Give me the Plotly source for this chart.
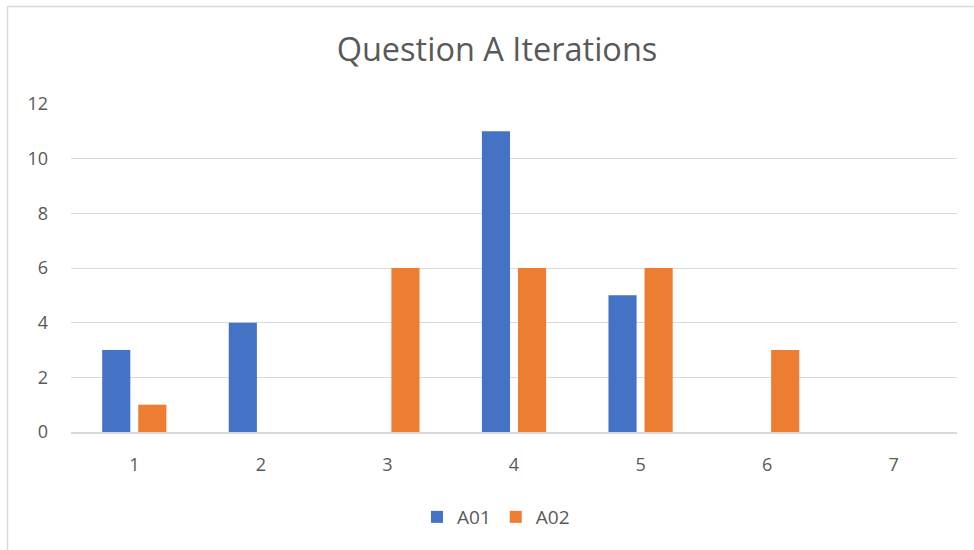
import plotly.graph_objects as go

categories = ["1", "2", "3", "4", "5", "6", "7"]
a01 = [3, 4, 0, 11, 5, 0, 0]
a02 = [1, 0, 6, 6, 6, 3, 0]

blue = "#4472C4"
orange = "#ED7D31"
text_grey = "#595959"
grid_grey = "#D9D9D9"
font_family = "'Open Sans', sans-serif"

fig = go.Figure()
fig.add_trace(go.Bar(name="A01", x=categories, y=a01, marker_color=blue, marker_line_width=0))
fig.add_trace(go.Bar(name="A02", x=categories, y=a02, marker_color=orange, marker_line_width=0))

W, H = 974, 550
ml, mr, mt, mb = 71, 17, 104, 118
pw, ph = W - ml - mr, H - mt - mb

def px_x(p):
    return (p - ml) / pw

def px_y(p):
    return 1 - (p - mt) / ph

# chart frame (left and top edges visible)
fig.add_shape(type="line", xref="paper", yref="paper",
              x0=px_x(7.5), x1=px_x(7.5), y0=px_y(600), y1=px_y(6.5),
              line=dict(color=grid_grey, width=1.5))
fig.add_shape(type="line", xref="paper", yref="paper",
              x0=px_x(7.5), x1=px_x(1000), y0=px_y(6.5), y1=px_y(6.5),
              line=dict(color=grid_grey, width=1.5))

fig.update_layout(
    width=W, height=H,
    margin=dict(l=ml, r=mr, t=mt, b=mb),
    paper_bgcolor="white", plot_bgcolor="white",
    barmode="group", bargap=0.43, bargroupgap=0.22,
    font=dict(family=font_family, color=text_grey, size=18),
    title=dict(text="Question A Iterations", x=497 / W, xanchor="center",
               y=1 - 50 / H, yanchor="middle",
               font=dict(size=32.5, color=text_grey, family=font_family)),
    legend=dict(orientation="h", x=px_x(496), xanchor="center",
                y=px_y(517), yanchor="middle",
                font=dict(size=19, color=text_grey),
                itemwidth=30, tracegroupgap=0),
    xaxis=dict(showgrid=False, showline=True, linecolor=grid_grey, linewidth=1.5,
               ticks="", ticklabelstandoff=16, tickfont=dict(size=18, color=text_grey)),
    yaxis=dict(range=[0, 12], dtick=2, showgrid=True, gridcolor=grid_grey, gridwidth=1.3,
               zeroline=False, showline=False, ticks="", ticklabelstandoff=22,
               tickfont=dict(size=18, color=text_grey)),
)

fig.write_html("out.html")
